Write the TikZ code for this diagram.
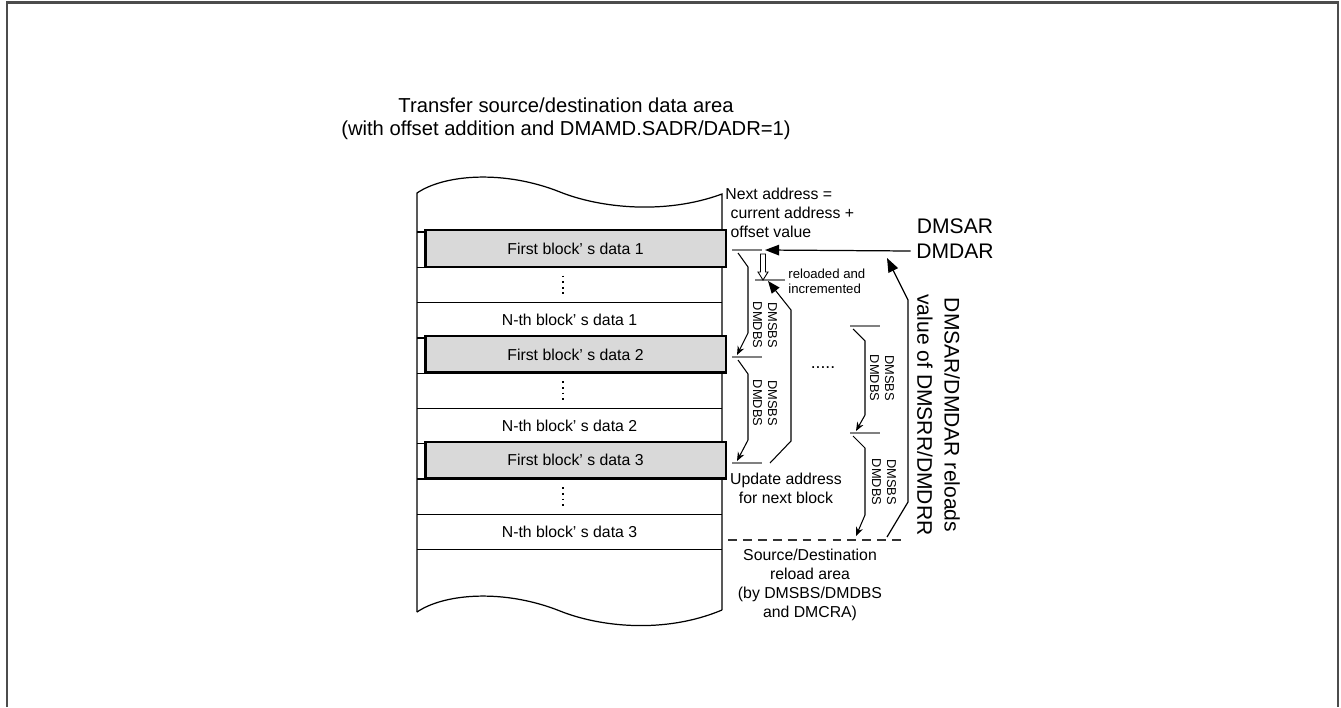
\documentclass[tikz,border=0pt]{standalone}
\usepackage{fontspec}
\setmainfont{Liberation Sans}
\usetikzlibrary{arrows.meta, positioning}

\tikzset{
  memline/.style={line width=0.7pt},
  firstbox/.style={draw, line width=1.4pt, fill=black!15, minimum width=6.01cm, minimum height=0.73cm, inner sep=0pt, font=\fontsize{9}{11}\selectfont},
  rowtext/.style={font=\fontsize{9}{11}\selectfont},
  vdotline/.style={line width=1pt, dash pattern=on 1pt off 2.2pt},
  tickline/.style={gray, line width=0.6pt},
  bracearrow/.style={line width=0.6pt, -{Stealth[length=5pt,width=4pt]}},
  bigarrow/.style={line width=0.7pt, -{Triangle[length=8pt,width=6pt]}},
  note/.style={font=\fontsize{9}{10.8}\selectfont, align=center, inner sep=0pt},
  sizelabel/.style={font=\fontsize{7.3}{8.5}\selectfont, rotate=-90, align=center, inner sep=0pt},
  reglabel/.style={font=\fontsize{12}{14}\selectfont, inner sep=3pt},
}

\begin{document}
\begin{tikzpicture}[x=0.02cm, y=-0.02cm]
  \useasboundingbox (0,0) rectangle (1341,707);
  \draw[black!70, line width=1.3pt] (7,707) -- (7,2.5) -- (1338,2.5) -- (1338,707);

  \node[note, font=\fontsize{11.5}{13.1}\selectfont] (title) at (566,119)
    {Transfer source/destination data area\\(with offset addition and DMAMD.SADR/DADR=1)};

  % memory area with torn edges
  \draw[memline] (417,612) -- (417,193) .. controls (445,174) and (505,170) .. (560,192)
    .. controls (600,208) and (665,215) .. (722,194) -- (722,610);
  \draw[memline] (417,612) .. controls (445,593) and (505,589) .. (560,611)
    .. controls (600,627) and (665,634) .. (722,610);
  \foreach \k in {0,...,9}
    \draw[memline] (417,232+35.3*\k) -- (722,232+35.3*\k);

  \foreach \i/\yc in {1/249.7, 2/355.6, 3/461.5} {
    \node[firstbox] (first\i) at (575.5,\yc-1.2) {First block’ s data \i};
    \draw[vdotline] (563,\yc+25.8) -- (563,\yc+45.8);
    \node[rowtext] (nth\i) at (569.5,\yc+70.6) {N-th block’ s data \i};
  }

  % address marks
  \coordinate (cur) at (765,250);
  \coordinate (rel) at (768,281);
  \draw[tickline] (732,250) -- (762,250);
  \draw[tickline] (755,280) -- (785,280);
  \draw[tickline] (732,357) -- (762,357);
  \draw[tickline] (732,463) -- (762,463);
  \draw[tickline] (850,326) -- (880,326);
  \draw[tickline] (850,433) -- (880,433);
  \draw[black!80, line width=0.7pt, dash pattern=on 5pt off 3.5pt] (728,540) -- (907,540);

  \node[note, align=left, anchor=west] (next) at (725,213)
    {Next address =\\\hspace*{3pt}current address +\\\hspace*{3pt}offset value};
  \node[reglabel] (dmsar) at (955,226) {DMSAR};
  \node[reglabel] (dmdar) at (955,251) {DMDAR};
  \draw[bigarrow] (dmdar.west) -- (cur);

  \draw[line width=0.5pt, fill=white] (760.5,254) -- (760.5,272) -- (758,272) -- (763,280)
    -- (768,272) -- (765.5,272) -- (765.5,254) -- cycle;
  \node[note, align=left, anchor=west, font=\fontsize{7.5}{8.5}\selectfont] (reload) at (788,281)
    {reloaded and\\incremented};

  % block size steps
  \draw[bracearrow] (738,253) -- (748,267) -- (748,333) -- (737,355);
  \draw[bracearrow] (738,360) -- (748,374) -- (748,440) -- (737,461);
  \draw[bracearrow] (853,329) -- (865,341) -- (865,415) -- (856,431);
  \draw[bracearrow] (853,436) -- (865,448) -- (865,515) -- (856,536);
  \node[sizelabel] (bs1) at (765,325) {DMSBS\\DMDBS};
  \node[sizelabel] (bs2) at (765,403) {DMSBS\\DMDBS};
  \node[sizelabel] (bs3) at (882,378) {DMSBS\\DMDBS};
  \node[sizelabel] (bs4) at (884,482) {DMSBS\\DMDBS};
  \node[font=\fontsize{10}{12}\selectfont, inner sep=0pt] (more) at (823,368) {.....};

  \node[note] (update) at (786,488) {Update address\\for next block};
  \draw[-{Triangle[length=7pt,width=5.5pt]}, line width=0.6pt]
    (770,463) -- (791,441) -- (791,310) -- (rel);

  \node[note] (area) at (810,585)
    {Source/Destination\\reload area\\(by DMSBS/DMDBS\\and DMCRA)};
  \draw[bigarrow] (887,537) -- (908,502) -- (908,300) -- (887,258);
  \node[reglabel, rotate=-90, align=center, font=\fontsize{12}{15.4}\selectfont, inner sep=0pt]
    (reloads) at (938.5,415) {DMSAR/DMDAR reloads\\value of DMSRR/DMDRR};
\end{tikzpicture}
\end{document}
